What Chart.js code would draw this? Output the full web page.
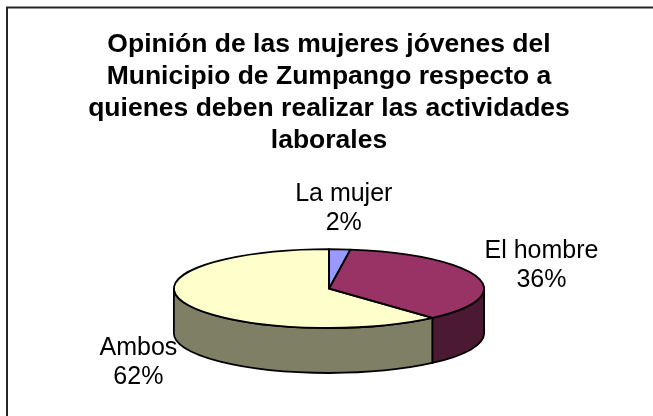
<!DOCTYPE html>
<html><head><meta charset="utf-8">
<script src="https://cdn.jsdelivr.net/npm/chart.js@4.4.1/dist/chart.umd.min.js"></script>
<style>html,body{margin:0;padding:0;background:#fff;}canvas{display:block;}</style>
</head><body>
<canvas id="c" width="653" height="416"></canvas>
<script>
const titleLines = ["Opinión de las mujeres jóvenes del", "Municipio de Zumpango respecto a", "quienes deben realizar las actividades", "laborales"];
const categories = ["La mujer", "El hombre", "Ambos"];
const values = [2.2, 36.2, 61.6];
const topColors = ["#9999FF", "#993366", "#FFFFCC"];
const sideColors = ["#4C4C80", "#4C1933", "#7F7F66"];

const FONT = '"Liberation Sans", Arial, sans-serif';

function geom(chart, o) {
  const meta = chart.getDatasetMeta(0);
  const a = chart.chartArea;
  const ry = (a.bottom - a.top - o.depth) / 2;
  const rx = ry / o.tilt;
  const first = meta.data[0];
  return { meta, cx: first.x, cy: a.top + ry, rx, ry, r0: first.outerRadius, ox: first.x, oy: first.y, depth: o.depth };
}

const pie3d = {
  id: 'pie3d',
  beforeDraw(chart) {
    const ctx = chart.ctx;
    ctx.save();
    ctx.fillStyle = '#fff';
    ctx.fillRect(0, 0, chart.width, chart.height);
    ctx.strokeStyle = '#262626';
    ctx.lineWidth = 2;
    ctx.strokeRect(7, 7.5, chart.width + 20, chart.height + 20);
    ctx.restore();
  },
  beforeDatasetsDraw(chart, args, o) {
    const ctx = chart.ctx;
    const g = geom(chart, o);
    ctx.save();
    ctx.lineWidth = o.lineWidth;
    ctx.strokeStyle = o.edgeColor;
    ctx.lineJoin = 'round';
    g.meta.data.forEach((el, i) => {
      const a1 = Math.max(el.startAngle, 0);
      const a2 = Math.min(el.endAngle, Math.PI);
      if (a2 <= a1) return;
      ctx.beginPath();
      ctx.ellipse(g.cx, g.cy, g.rx, g.ry, 0, a1, a2, false);
      ctx.lineTo(g.cx + g.rx * Math.cos(a2), g.cy + g.depth + g.ry * Math.sin(a2));
      ctx.ellipse(g.cx, g.cy + g.depth, g.rx, g.ry, 0, a2, a1, true);
      ctx.closePath();
      ctx.fillStyle = sideColors[i];
      ctx.fill();
      ctx.stroke();
    });
    ctx.restore();
    ctx.save();
    ctx.translate(g.cx, g.cy);
    ctx.scale(g.rx / g.r0, g.ry / g.r0);
    ctx.translate(-g.ox, -g.oy);
  },
  afterDatasetsDraw(chart, args, o) {
    const ctx = chart.ctx;
    ctx.restore();
    const g = geom(chart, o);
    ctx.save();
    ctx.lineWidth = o.lineWidth;
    ctx.strokeStyle = o.edgeColor;
    ctx.lineJoin = 'round';
    g.meta.data.forEach((el) => {
      ctx.beginPath();
      ctx.moveTo(g.cx, g.cy);
      ctx.lineTo(g.cx + g.rx * Math.cos(el.startAngle), g.cy + g.ry * Math.sin(el.startAngle));
      ctx.ellipse(g.cx, g.cy, g.rx, g.ry, 0, el.startAngle, el.endAngle, false);
      ctx.closePath();
      ctx.stroke();
    });
    // labels
    const total = values.reduce((s, v) => s + v, 0);
    ctx.font = o.labelFont;
    ctx.fillStyle = '#000';
    ctx.textAlign = 'center';
    ctx.textBaseline = 'middle';
    g.meta.data.forEach((el, i) => {
      const mid = (el.startAngle + el.endAngle) / 2;
      const c = Math.cos(mid), s = Math.sin(mid);
      const l1 = categories[i];
      const l2 = Math.round(values[i] / total * 100) + '%';
      const w = Math.max(ctx.measureText(l1).width, ctx.measureText(l2).width);
      const h = 2 * o.labelLine;
      const x = g.cx + (g.rx + o.gapX) * c + (w / 2) * c;
      const y = g.cy + (g.ry + o.gapY) * s + (h / 2) * s + (s > 0 ? g.depth : 0);
      ctx.fillText(l1, x, y - o.labelLine / 2);
      ctx.fillText(l2, x, y + o.labelLine / 2);
    });
    ctx.restore();
  }
};

new Chart(document.getElementById('c'), {
  type: 'pie',
  data: {
    labels: categories,
    datasets: [{
      data: values,
      backgroundColor: topColors,
      borderWidth: 0,
      clip: false
    }]
  },
  options: {
    responsive: false,
    animation: false,
    events: [],
    devicePixelRatio: 1,
    layout: { padding: { left: 5, right: 0, top: 0, bottom: 43 } },
    plugins: {
      legend: { display: false },
      tooltip: { enabled: false },
      title: {
        display: true,
        text: titleLines,
        color: '#000',
        font: { family: FONT, size: 26.5, weight: 'bold', lineHeight: 1.2 },
        padding: { top: 29, bottom: 93 }
      },
      pie3d: {
        tilt: 0.254,
        depth: 45,
        lineWidth: 1.8,
        edgeColor: '#000',
        labelFont: '25px ' + FONT,
        labelLine: 29,
        gapX: 10,
        gapY: 12
      }
    }
  },
  plugins: [pie3d]
});
</script>
</body></html>
